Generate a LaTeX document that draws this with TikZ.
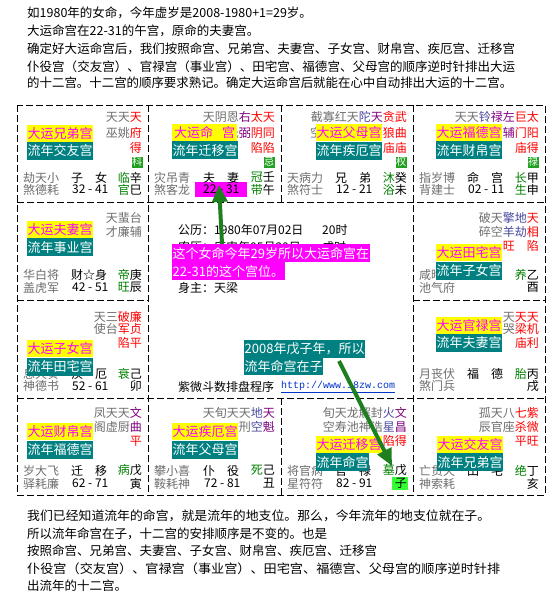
\documentclass[tikz,border=0pt]{standalone}
\usepackage{fontspec}
\usepackage{graphicx}
\setmainfont{Noto Sans CJK SC}
\newfontfamily\monof{Liberation Mono}
\usetikzlibrary{arrows.meta}
\definecolor{cgray}{HTML}{6E6E6E}
\definecolor{cred}{HTML}{FF0000}
\definecolor{cpur}{HTML}{800080}
\definecolor{cblu}{HTML}{4848A0}
\definecolor{cgrn}{HTML}{008000}
\definecolor{cbdg}{HTML}{22A022}
\definecolor{cyel}{HTML}{FFFF00}
\definecolor{cmag}{HTML}{FF00FF}
\definecolor{cteal}{HTML}{008080}
\definecolor{clime}{HTML}{33FF33}
\definecolor{carr}{HTML}{1E7F1E}
\definecolor{curl}{HTML}{0033CC}
\newcommand{\G}[1]{\textcolor{cgray}{#1}}
\newcommand{\R}[1]{\textcolor{cred}{#1}}
\newcommand{\PU}[1]{\textcolor{cpur}{#1}}
\newcommand{\BL}[1]{\textcolor{cblu}{#1}}
\newcommand{\E}[1]{\textcolor{cgrn}{#1}}
\newcommand{\fitw}[2]{\resizebox{#1}{\height}{#2}}
\begin{document}
\begin{tikzpicture}[x=1pt,y=-1pt,
  lt/.style={inner sep=0pt,anchor=west,font=\fontsize{12}{12}\selectfont},
  rt/.style={inner sep=0pt,anchor=east,font=\fontsize{12}{12}\selectfont},
  hd/.style={inner sep=0pt,anchor=west,font=\fontsize{12.5}{12.5}\selectfont},
  bdg/.style={fill=cbdg,text=white,inner sep=0pt,minimum width=11pt,minimum height=11pt,font=\fontsize{10}{10}\selectfont},
  ybox/.style={fill=cyel,text=cmag,anchor=north west,inner xsep=0.5pt,inner ysep=0pt,minimum height=17pt,minimum width=65pt,font=\fontsize{13}{13}\selectfont},
  tbox/.style={fill=cteal,text=white,anchor=north west,inner xsep=0.5pt,inner ysep=0pt,minimum height=18pt,font=\fontsize{13}{13}\selectfont},
  mbox/.style={fill=cmag,text=white,anchor=north west,inner xsep=0.5pt,inner ysep=0pt,minimum height=18pt,font=\fontsize{13}{13}\selectfont},
  grid/.style={draw=black,line width=0.8pt,dash pattern=on 7pt off 3pt},
  arr/.style={draw=carr,line width=4pt,-{Triangle[width=15pt,length=17pt]}}]
\fill[white] (0,0) rectangle (550,602);
\useasboundingbox (0,0) rectangle (550,602);

% header
\node[hd] (h1) at (27,13) {如1980年的女命，今年虚岁是2008-1980+1=29岁。};
\node[hd] (h2) at (27,31) {大运命宫在22-31的午宫，原命的夫妻宫。};
\node[hd] (h3) at (27,49) {\fitw{488pt}{确定好大运命宫后，我们按照命宫、兄弟宫、夫妻宫、子女宫、财帛宫、疾厄宫、迁移宫}};
\node[hd] (h4) at (27,67) {\fitw{488pt}{仆役宫（交友宫）、官禄宫（事业宫）、田宅宫、福德宫、父母宫的顺序逆时针排出大运}};
\node[hd] (h5) at (27,83) {\fitw{485pt}{的十二宫。十二宫的顺序要求熟记。确定大运命宫后就能在心中自动排出大运的十二宫。}};

% grid
\draw[grid] (17,105) rectangle (545,495);
\draw[grid] (17,202) -- (545,202);
\draw[grid] (17,398) -- (545,398);
\draw[grid] (17,300) -- (148,300);
\draw[grid] (413,300) -- (545,300);
\draw[grid] (148,105) -- (148,495);
\draw[grid] (413,105) -- (413,495);
\draw[grid] (281,105) -- (281,202);
\draw[grid] (281,398) -- (281,495);

% highlight boxes under text
\fill[cmag] (195,182) rectangle (247,197);
\fill[clime] (392,477) rectangle (408,490);

% ---- row 1 ----
\node[rt] (s1a) at (142,117) {\G{天天}\R{天}};
\node[rt] (s1b) at (142,132.5) {\G{巫姚}\R{府}};
\node[rt] (s1c) at (142,148) {\R{得}};
\node[bdg] (s1d) at (137,162) {科};
\node[lt] (s1e) at (23,177.5) {\G{劫天小}};
\node[lt] (s1f) at (71,177.5) {子　女};
\node[rt] (s1g) at (142,177.5) {\E{临}辛};
\node[lt] (s1h) at (23,189.5) {\G{煞德耗}};
\node[lt] (s1i) at (72,189.5) {32 - 41};
\node[rt] (s1j) at (142,189.5) {\E{官}巳};
\node[rt] (w1a) at (275,117) {\G{天阴恩}\PU{右}\R{太天}};
\node[rt] (w1b) at (275,132.5) {\G{光}\PU{弼}\R{阴同}};
\node[rt] (w1c) at (275,148) {\R{陷陷}};
\node[bdg] (w1d) at (269,162) {忌};
\node[lt] (w1e) at (154,177.5) {\G{灾吊青}};
\node[lt] (w1f) at (203,177.5) {夫　妻};
\node[rt] (w1g) at (275,177.5) {\E{冠}壬};
\node[lt] (w1h) at (154,189.5) {\G{煞客龙}};
\node[lt] (w1i) at (203,189.5) {22 - 31};
\node[rt] (w1j) at (275,189.5) {\E{带}午};
\node[rt] (v1a) at (407,117) {\G{截寡红天}\BL{陀}\PU{天}\R{贪武}};
\node[lt] (v1b) at (310,132.5) {\G{空}};
\node[rt] (v1k) at (407,132.5) {\R{狼曲}};
\node[rt] (v1c) at (407,148) {\R{庙庙}};
\node[bdg] (v1d) at (401,162) {权};
\node[lt] (v1e) at (287,177.5) {\G{天病力}};
\node[lt] (v1f) at (335,177.5) {兄　弟};
\node[rt] (v1g) at (407,177.5) {\E{沐}癸};
\node[lt] (v1h) at (287,189.5) {\G{煞符士}};
\node[lt] (v1i) at (336,189.5) {12 - 21};
\node[rt] (v1j) at (407,189.5) {\E{浴}未};
\node[rt] (n1a) at (539,117) {\G{天天}\BL{铃}\PU{禄左}\R{巨太}};
\node[rt] (n1b) at (539,132.5) {\PU{辅}\R{门阳}};
\node[rt] (n1c) at (539,148) {\R{庙得}};
\node[bdg] (n1d) at (533,162) {禄};
\node[lt] (n1e) at (419,177.5) {\G{指岁博}};
\node[lt] (n1f) at (467,177.5) {命　宫};
\node[rt] (n1g) at (539,177.5) {\E{长}甲};
\node[lt] (n1h) at (419,189.5) {\G{背建士}};
\node[lt] (n1i) at (468,189.5) {02 - 11};
\node[rt] (n1j) at (539,189.5) {\E{生}申};

% ---- row 2 ----
\node[rt] (c2a) at (142,218) {\G{天蜚台}};
\node[rt] (c2b) at (142,231.5) {\G{才廉辅}};
\node[lt] (c2e) at (23,275) {\G{华白将}};
\node[lt] (c2f) at (71,275) {财☆身};
\node[rt] (c2g) at (142,275) {\E{帝}庚};
\node[lt] (c2h) at (23,287.5) {\G{盖虎军}};
\node[lt] (c2i) at (72,287.5) {42 - 51};
\node[rt] (c2j) at (142,287.5) {\E{旺}辰};
\node[rt] (y2a) at (539,218) {\G{破天}\BL{擎地}\R{天}};
\node[rt] (y2b) at (539,231.5) {\G{碎空}\BL{羊劫}\R{相}};
\node[rt] (y2c) at (539,245.5) {\R{旺　陷}};
\node[lt] (y2e) at (419,275) {\G{咸晦}};
\node[rt] (y2g) at (539,275) {\E{养}乙};
\node[lt] (y2h) at (419,287.5) {\G{池气府}};
\node[rt] (y2j) at (539,287.5) {酉};

% ---- row 3 ----
\node[rt] (m3a) at (142,317) {\G{天三}\R{破廉}};
\node[rt] (m3b) at (142,329) {\G{使台}\R{军贞}};
\node[rt] (m3c) at (142,343) {\R{陷平}};
\node[lt] (m3e) at (23,373.5) {\G{息天奏}};
\node[lt] (m3f) at (71,373.5) {疾　厄};
\node[rt] (m3g) at (142,373.5) {\E{衰}己};
\node[lt] (m3h) at (23,386) {\G{神德书}};
\node[lt] (m3i) at (72,386) {52 - 61};
\node[rt] (m3j) at (142,386) {卯};
\node[rt] (x3a) at (539,317) {\G{天}\R{天天}};
\node[rt] (x3b) at (539,329) {\G{哭}\R{梁机}};
\node[rt] (x3c) at (539,343) {\R{庙利}};
\node[lt] (x3e) at (419,373.5) {\G{月丧伏}};
\node[lt] (x3f) at (467,373.5) {福　德};
\node[rt] (x3g) at (539,373.5) {\E{胎}丙};
\node[lt] (x3h) at (419,386) {\G{煞门兵}};
\node[rt] (x3j) at (539,386) {戌};

% ---- row 4 ----
\node[rt] (y4a) at (142,413) {\G{凤天天}\PU{文}};
\node[rt] (y4b) at (142,427) {\G{阁虚厨}\PU{曲}};
\node[rt] (y4c) at (142,441) {\R{平}};
\node[lt] (y4e) at (23,470.5) {\G{岁大飞}};
\node[lt] (y4f) at (71,470.5) {迁　移};
\node[rt] (y4g) at (142,470.5) {\E{病}戊};
\node[lt] (y4h) at (23,483.5) {\G{驿耗廉}};
\node[lt] (y4i) at (72,483.5) {62 - 71};
\node[rt] (y4j) at (142,483.5) {寅};
\node[rt] (c4a) at (275,413) {\G{天旬天天}\BL{地}\PU{天}};
\node[rt] (c4b) at (275,427) {\G{刑}\BL{空}\PU{魁}};
\node[lt] (c4e) at (154,470.5) {\G{攀小喜}};
\node[lt] (c4f) at (203,470.5) {仆　役};
\node[rt] (c4g) at (275,470.5) {\E{死}己};
\node[lt] (c4h) at (154,483.5) {\G{鞍耗神}};
\node[lt] (c4i) at (204,483.5) {72 - 81};
\node[rt] (c4j) at (275,483.5) {丑};
\node[rt] (z4a) at (407,413) {\G{旬天龙解封}\BL{火}\PU{文}};
\node[rt] (z4b) at (407,427) {\G{空寿池神诰}\BL{星}\PU{昌}};
\node[rt] (z4c) at (407,441) {\R{陷得}};
\node[lt] (z4e) at (287,470.5) {\G{将官病}};
\node[lt] (z4f) at (335,470.5) {官　禄};
\node[rt] (z4g) at (407,470.5) {\E{墓}戊};
\node[lt] (z4h) at (287,483.5) {\G{星符符}};
\node[lt] (z4i) at (336,483.5) {82 - 91};
\node[rt] (z4j) at (407,483.5) {子};
\node[rt] (h4a) at (539,413) {\G{孤天八}\R{七紫}};
\node[rt] (h4b) at (539,427) {\G{辰官座}\R{杀微}};
\node[rt] (h4c) at (539,441) {\R{平旺}};
\node[lt] (h4e) at (419,470.5) {\G{亡贯天}};
\node[lt] (h4f) at (467,470.5) {田　宅};
\node[rt] (h4g) at (539,470.5) {\E{绝}丁};
\node[lt] (h4h) at (419,483.5) {\G{神索耗}};
\node[rt] (h4j) at (539,483.5) {亥};

% ---- centre ----
\node[lt] (k1) at (178,230) {公历：1980年07月02日};
\node[lt] (k2) at (322,230) {20时};
\node[lt] (k3) at (178,247) {农历：庚申年05月20日};
\node[lt] (k4) at (322,247) {戌时};
\node[lt] (k5) at (178,288) {身主：天梁};
\node[lt] (k6) at (178,387) {紫微斗数排盘程序};
\node[inner sep=0pt,anchor=west,text=curl,font=\monof\fontsize{10}{10}\selectfont] (k7) at (281,387) {\underline{http://www.18zw.com}};

% ---- palace labels ----
\node[ybox] (L1) at (27,124.5) {大运兄弟宫};
\node[tbox] (T1) at (27,141.5) {流年交友宫};
\node[ybox] (L2) at (172,124) {大运命\hspace{9pt}宫};
\node[tbox] (T2) at (172,141) {流年迁移宫};
\node[ybox] (L3) at (316,124) {大运父母宫};
\node[tbox] (T3) at (316,141.5) {流年疾厄宫};
\node[ybox] (L4) at (436,124) {大运福德宫};
\node[tbox] (T4) at (436,141) {流年财帛宫};
\node[ybox] (L5) at (27,221) {大运夫妻宫};
\node[tbox] (T5) at (27,238) {流年事业宫};
\node[ybox] (L6) at (436,244) {大运田宅宫};
\node[tbox] (T6) at (436,261.5) {流年子女宫};
\node[ybox] (L7) at (27,340) {大运子女宫};
\node[tbox] (T7) at (27,357.5) {流年田宅宫};
\node[ybox] (L8) at (436,316.5) {大运官禄宫};
\node[tbox] (T8) at (436,333.5) {流年夫妻宫};
\node[ybox] (L9) at (27,423) {大运财帛宫};
\node[tbox] (T9) at (27,440.5) {流年福德宫};
\node[ybox] (L10) at (172,423) {大运疾厄宫};
\node[tbox] (T10) at (172,440.5) {流年父母宫};
\node[ybox] (L11) at (316,436) {大运迁移宫};
\node[tbox] (T11) at (316,453) {流年命宫};
\node[ybox] (L12) at (437,436) {大运交友宫};
\node[tbox] (T12) at (437,453) {流年兄弟宫};

% ---- notes ----
\node[mbox] (M1) at (172,244) {这个女命今年29岁所以大运命宫在};
\node[mbox] (M2) at (172,262) {22-31的这个宫位。};
\node[tbox] (N1) at (244,340) {2008年戊子年，所以};
\node[tbox] (N2) at (244,357) {流年命宫在子};

% ---- arrows ----
\coordinate (a1s) at (222,244);
\coordinate (a1e) at (219,185);
\coordinate (a2s) at (339,361);
\coordinate (a2e) at (392,466);
\draw[arr] (a1s) -- (a1e);
\draw[arr] (a2s) -- (a2e);

% footer
\node[hd] (f1) at (27,516) {\fitw{463pt}{我们已经知道流年的命宫，就是流年的地支位。那么，今年流年的地支位就在子。}};
\node[hd] (f2) at (27,534) {所以流年命宫在子，十二宫的安排顺序是不变的。也是};
\node[hd] (f3) at (27,551) {按照命宫、兄弟宫、夫妻宫、子女宫、财帛宫、疾厄宫、迁移宫};
\node[hd] (f4) at (27,569) {\fitw{473pt}{仆役宫（交友宫）、官禄宫（事业宫）、田宅宫、福德宫、父母宫的顺序逆时针排}};
\node[hd] (f5) at (27,586) {出流年的十二宫。};
\end{tikzpicture}
\end{document}
